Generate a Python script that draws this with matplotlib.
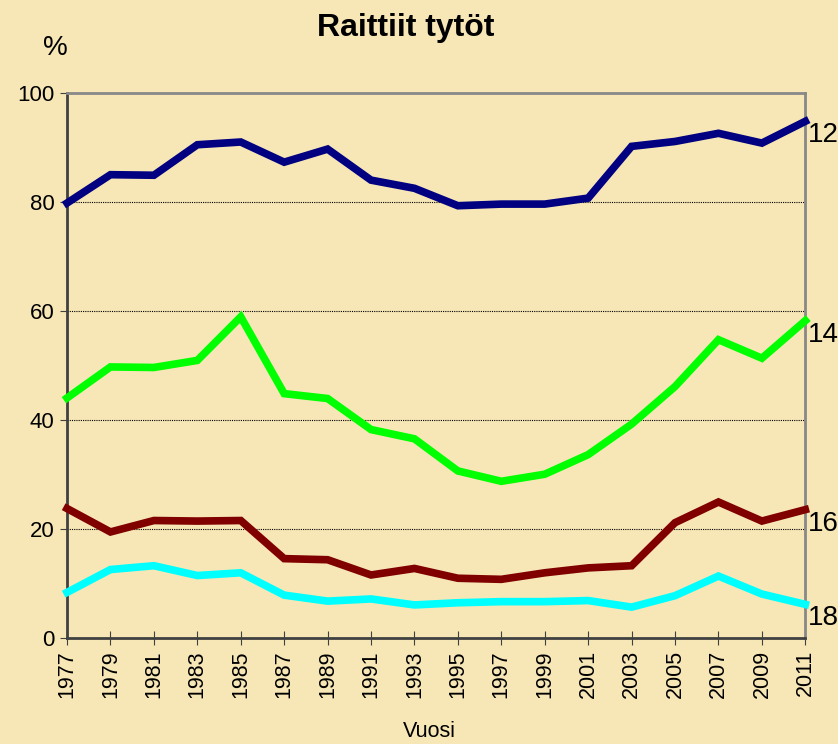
import numpy as np
import matplotlib.pyplot as plt

plt.rcParams["font.family"] = ["Liberation Sans", "DejaVu Sans"]

years = list(range(1977, 2012, 2))
age_labels = ["12", "14", "16", "18"]
age12 = [79.8, 85.0, 84.9, 90.5, 91.0, 87.3, 89.7, 84.0, 82.5, 79.3, 79.6, 79.6, 80.7, 90.2, 91.1, 92.6, 90.8, 94.8]
age14 = [44.0, 49.7, 49.6, 50.9, 58.9, 44.8, 43.9, 38.2, 36.5, 30.6, 28.7, 30.0, 33.6, 39.2, 46.1, 54.7, 51.3, 58.2]
age16 = [23.7, 19.4, 21.5, 21.4, 21.5, 14.5, 14.3, 11.5, 12.7, 10.9, 10.7, 11.9, 12.8, 13.2, 21.1, 24.9, 21.4, 23.5]
age18 = [8.3, 12.5, 13.2, 11.4, 11.9, 7.8, 6.7, 7.1, 6.0, 6.4, 6.6, 6.6, 6.8, 5.6, 7.7, 11.3, 8.0, 6.1]
series = [age12, age14, age16, age18]
colors = ["#000080", "#00ff00", "#800000", "#00ffff"]

bg = "#f7e7b6"
fig = plt.figure(figsize=(8.38, 7.44), dpi=100, facecolor=bg)
ax = fig.add_axes([0.080, 0.143, 0.881, 0.732])
ax.set_facecolor("none")

for vals, col, lab in zip(series, colors, age_labels):
    ax.plot(years, vals, color=col, linewidth=5.5, solid_joinstyle="miter", clip_on=False, zorder=3)
    ax.annotate(lab, (years[-1], vals[-1]), xytext=(2, -10), textcoords="offset points",
                ha="left", va="center", fontsize=20, annotation_clip=False)

ax.set_xlim(years[0], years[-1])
ax.set_ylim(0, 100)
ax.set_xticks(years)
ax.set_xticklabels([str(y) for y in years], rotation=90, fontsize=15.5)
ax.set_yticks([0, 20, 40, 60, 80, 100])
ax.tick_params(axis="y", labelsize=16, direction="out", length=5, color="#404040", pad=4)
ax.tick_params(axis="x", direction="inout", length=10, color="#404040", pad=4)

for y in [20, 40, 60, 80]:
    ax.axhline(y, color="black", linestyle=(0, (1, 1)), linewidth=0.8, zorder=1)

ax.spines["left"].set_color("#404040")
ax.spines["bottom"].set_color("#404040")
ax.spines["left"].set_linewidth(2)
ax.spines["bottom"].set_linewidth(2)
ax.spines["top"].set_color("#888888")
ax.spines["right"].set_color("#888888")
ax.spines["top"].set_linewidth(2)
ax.spines["right"].set_linewidth(2)

fig.text(0.484, 0.962, "Raittiit tytöt", ha="center", va="center", fontsize=23, fontweight="bold")
fig.text(0.066, 0.936, "%", ha="center", va="center", fontsize=20)
fig.text(0.513, 0.017, "Vuosi", ha="center", va="center", fontsize=15.5)

fig.savefig("out.png", dpi=100, facecolor=bg)
